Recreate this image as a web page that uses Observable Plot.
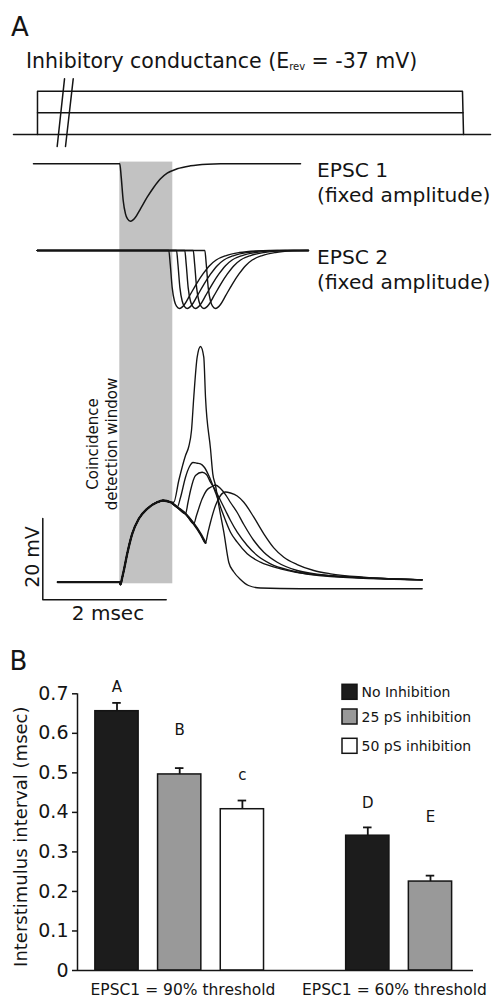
<!DOCTYPE html>
<html><head><meta charset="utf-8">
<script src="https://cdn.jsdelivr.net/npm/d3@7"></script>
<script src="https://cdn.jsdelivr.net/npm/@observablehq/plot@0.6"></script>
<style>
html,body{margin:0;padding:0;background:#fff;}
#fig{position:relative;width:495px;height:999px;overflow:hidden;font-family:"DejaVu Sans",sans-serif;}
</style></head><body><div id="fig"></div>
<script>
// ---------------- DATA: Panel A (time in ms, EPSC onset 1 = 0) ----------------
const windowSpan = [0, 0.859];                 // coincidence detection window (ms)
const inhibitionLevels = [25, 50];             // pS
const conductanceBaseline = [[-1.723,0],[6.008,0]];
const conductance50 = [[-1.334,0],[-1.334,50],[5.554,50],[5.571,0]];
const conductance25 = [[-1.334,25],[5.562,25]];
const axisBreak = [[[-1.015,-13.9],[-0.896,64.3]], [[-0.880,-13.9],[-0.755,64.3]]];

// EPSC waveform (time after onset in ms, normalized current)
const epscShape = [[0,0],[0.023,-0.233],[0.055,-0.639],[0.092,-0.871],[0.125,-0.96],[0.173,-1.0],
  [0.254,-0.930],[0.335,-0.784],[0.444,-0.582],[0.551,-0.408],[0.660,-0.261],[0.768,-0.164],
  [0.930,-0.087],[1.146,-0.035],[1.417,-0.007],[1.633,0]];
const epsc1Onset = 0;
const epsc1Span = [-1.399, 2.929];
const epsc2Onsets = [0.794, 0.919, 1.053, 1.190, 1.378];
const epsc2Span = [-1.339, 3.058];

// Membrane potential traces (ms, mV relative to rest)
const vmCommon = [[-1.005,0],[0,0],[0.011,-0.57],[0.036,0.91],[0.065,2.88],[0.120,6.99],[0.201,11.91],
  [0.308,15.60],[0.444,18.06],[0.606,19.68],[0.700,20.10],[0.822,19.68],[0.930,18.45],[1.065,16.83],
  [1.199,14.37],[1.308,11.91],[1.389,9.69]];
const vmBranchAt = [0.822, 0.930, 1.065, 1.199, 1.389];
const vm1 = [[0.875,19.68],[0.956,25.02],[1.065,31.17],[1.118,33.38],[1.162,37.32],[1.199,45.51],[1.254,55.35],
  [1.308,57.98],[1.361,55.35],[1.389,45.51],[1.470,32.82],[1.507,26.67],[1.551,23.79],[1.605,18.87],
  [1.686,12.30],[1.767,4.85],[1.843,2.63],[1.956,0.66],[2.086,-0.81],[2.280,-1.43],[2.929,-1.60],[4.901,-1.62]];
const vm2 = [[0.984,20.84],[1.065,25.83],[1.130,28.46],[1.186,29.45],[1.254,29.27],[1.308,29.13],[1.373,28.22],
  [1.442,26.25],[1.551,22.07],[1.664,17.15],[1.794,12.30],[1.903,9.84],[2.065,6.99],[2.280,4.92],
  [2.605,3.30],[3.144,1.89],[4.901,0.59]];
const vm3 = [[1.105,19.61],[1.146,22.56],[1.227,26.25],[1.335,27.06],[1.405,26.49],[1.470,24.60],[1.551,22.56],
  [1.632,20.10],[1.713,17.64],[1.794,15.18],[1.903,12.30],[2.065,9.03],[2.227,6.57],[2.442,4.53],
  [2.767,2.88],[3.415,1.40],[4.901,0.59]];
const vm4 = [[1.243,16.41],[1.335,20.52],[1.405,22.56],[1.498,23.54],[1.551,23.91],[1.632,23.05],[1.713,21.57],
  [1.794,19.61],[1.903,17.15],[2.010,14.19],[2.172,10.26],[2.334,7.38],[2.551,4.92],[2.875,2.88],
  [3.415,1.65],[4.901,0.59]];
const vm5 = [[1.429,12.23],[1.470,14.76],[1.551,18.87],[1.632,21.33],[1.713,22.19],[1.794,21.94],[1.903,21.21],
  [2.010,19.68],[2.172,15.99],[2.334,11.91],[2.496,8.46],[2.658,6.15],[2.875,4.35],[3.144,2.88],
  [3.415,2.07],[3.955,1.23],[4.901,0.59]];
const scaleBar = {ms: 2, mV: 20};

// ---------------- DATA: Panel B ----------------
const groups = ["EPSC1 = 90% threshold", "EPSC1 = 60% threshold"];
const conditions = ["No Inhibition", "25 pS inhibition", "50 pS inhibition"];
const barGroup = [0, 0, 0, 1, 1];
const barCondition = [0, 1, 2, 0, 1];
const barValues = [0.656, 0.496, 0.408, 0.341, 0.225];
const barErrors = [0.021, 0.016, 0.022, 0.021, 0.015];
const barLetters = ["A", "B", "c", "D", "E"];
const yTicks = [0, 0.1, 0.2, 0.3, 0.4, 0.5, 0.6, 0.7];
const conditionColors = ["#1c1c1c", "#999999", "#ffffff"];

// ---------------- BUILD ----------------
const fig = document.getElementById("fig");
const W = 495;
const FONT = "DejaVu Sans, sans-serif";
const GRAY = "#c2c2c2";
const INK = "#141414";
const xDomainA = [-1.9335, 6.0891];

function place(svg, top) {
  svg.style.position = "absolute";
  svg.style.left = "0px";
  svg.style.top = top + "px";
  fig.appendChild(svg);
}
function panelA(top, height, yDomain, marks) {
  const svg = Plot.plot({
    width: W, height, marginLeft: 0, marginRight: 0, marginTop: 0, marginBottom: 0,
    x: {domain: xDomainA, axis: null}, y: {domain: yDomain, axis: null},
    style: {background: "none", overflow: "visible"}, marks
  });
  place(svg, top);
}
const lineOpt = {stroke: INK, strokeWidth: 1.5};

// A1: inhibitory conductance
panelA(40, 110, [-18.48, 108.55], [
  Plot.line(conductanceBaseline, {...lineOpt}),
  Plot.line(conductance50, {...lineOpt}),
  Plot.line(conductance25, {...lineOpt}),
  ...axisBreak.map(seg => Plot.line(seg, {...lineOpt}))
]);

// EPSC traces built from the EPSC waveform at each onset
function epscTrace(onset, span) {
  return [[span[0], 0], ...epscShape.map(([t, i]) => [onset + t, i]), [span[1], 0]];
}
const yA2 = [-1.249, 0.232];
panelA(150, 85, yA2, [
  Plot.rect([windowSpan], {x1: d => d[0], x2: d => d[1], y1: () => yA2[0], y2: () => 0.03, fill: GRAY}),
  Plot.line(epscTrace(epsc1Onset, epsc1Span), {...lineOpt, curve: "monotone-x"})
]);
const yA3 = [-1.207, 0.259];
panelA(235, 85, yA3, [
  Plot.rect([windowSpan], {x1: d => d[0], x2: d => d[1], y1: () => yA3[0], y2: () => yA3[1], fill: GRAY}),
  ...epsc2Onsets.map(o => Plot.line(epscTrace(o, epsc2Span), {...lineOpt, strokeWidth: 1.4, curve: "monotone-x"}))
]);

// A4: membrane potential
const yA4 = [-11.88, 64.38];
const vmBranches = [vm1, vm2, vm3, vm4, vm5];
const vmTraces = vmBranches.map((b, i) => vmCommon.filter(p => p[0] <= vmBranchAt[i]).concat(b));
const sbT = -1.248, sbV = -4.33;
panelA(320, 310, yA4, [
  Plot.rect([windowSpan], {x1: d => d[0], x2: d => d[1], y1: () => -0.39, y2: () => yA4[1], fill: GRAY}),
  Plot.line(vmCommon, {stroke: INK, strokeWidth: 2.3, curve: "monotone-x"}),
  ...vmTraces.map(tr => Plot.line(tr, {stroke: INK, strokeWidth: 1.35, curve: "monotone-x"})),
  Plot.line([[sbT, sbV + scaleBar.mV], [sbT, sbV], [sbT + scaleBar.ms, sbV]], {...lineOpt})
]);

// Panel B bar chart
const bars = barValues.map((v, i) => ({
  group: barGroup[i], cond: barCondition[i], slot: barGroup[i] * 4 + barCondition[i],
  value: v, err: barErrors[i], letter: barLetters[i]
}));
const letterLevels = [0.717, 0.608, 0.494, 0.424, 0.388];
const xB = [-0.630, 5.686];
const half = 0.345;
const barSvg = Plot.plot({
  width: W, height: 359, marginLeft: 77, marginRight: 22, marginTop: 53.3, marginBottom: 29,
  x: {domain: xB, axis: null}, y: {domain: [0, 0.7], axis: null},
  style: {background: "none", overflow: "visible", fontFamily: FONT, color: INK},
  marks: [
    ...conditions.map((c, ci) => Plot.rect(bars.filter(d => d.cond === ci), {
      x1: d => d.slot - half, x2: d => d.slot + half, y1: () => 0, y2: "value",
      fill: conditionColors[ci], stroke: INK, strokeWidth: 1.5
    })),
    Plot.ruleX(bars, {x: "slot", y1: "value", y2: d => d.value + d.err, stroke: INK, strokeWidth: 1.8}),
    Plot.ruleY(bars, {y: d => d.value + d.err, x1: d => d.slot - 0.068, x2: d => d.slot + 0.068, stroke: INK, strokeWidth: 1.8}),
    Plot.text(bars, {x: "slot", y: (d, i) => letterLevels[i], text: "letter", fontSize: 15, fill: INK, fontFamily: FONT}),
    Plot.ruleY([0], {stroke: INK, strokeWidth: 1.5}),
    Plot.ruleX([0], {x: () => xB[0], y1: () => 0, y2: () => 0.7, stroke: INK, strokeWidth: 1.5}),
    Plot.axisY({ticks: yTicks, tickFormat: d => d === 0 ? "0" : d.toFixed(1), tickSize: 5, tickPadding: 4,
      fontSize: 19, label: null, stroke: INK, strokeWidth: 1.5, fill: INK})
  ]
});
place(barSvg, 640);

// ---------------- TEXT OVERLAY ----------------
const ov = d3.create("svg").attr("width", W).attr("height", 999)
  .style("position", "absolute").style("left", "0px").style("top", "0px")
  .attr("font-family", FONT).attr("fill", INK);
function label(x, y, s, size, anchor = "start", rotate = 0) {
  return ov.append("text").attr("transform", `translate(${x},${y}) rotate(${rotate})`)
    .attr("font-size", size).attr("text-anchor", anchor).text(s);
}
label(11, 36, "A", 26);
const title = ov.append("text").attr("x", 26).attr("y", 68).attr("font-size", 20.5);
title.append("tspan").text("Inhibitory conductance (E");
title.append("tspan").attr("font-size", 10).attr("dy", 2).text("rev");
title.append("tspan").attr("dy", -2).text(" = -37 mV)");
label(317, 177, "EPSC 1", 20.2);
label(317, 202, "(fixed amplitude)", 20.2);
label(317, 264, "EPSC 2", 20.2);
label(317, 289, "(fixed amplitude)", 20.2);
label(98, 444, "Coincidence", 15, "middle", -90);
label(116.5, 444, "detection window", 15, "middle", -90);
label(39, 557, "20 mV", 19, "middle", -90);
label(108, 620, "2 msec", 20, "middle");
label(9.5, 670, "B", 26);
label(27, 836.7, "Interstimulus interval (msec)", 18, "middle", -90);
const legY = [684.3, 709, 738.3];
conditions.forEach((c, i) => {
  ov.append("rect").attr("x", 342).attr("y", legY[i]).attr("width", 15).attr("height", 15)
    .attr("fill", conditionColors[i]).attr("stroke", INK).attr("stroke-width", 1.5);
  label(361.5, legY[i] + 12.5, c, 14);
});
label(183, 995, groups[0], 15.5, "middle");
label(394.5, 995, groups[1], 15.5, "middle");
fig.appendChild(ov.node());
</script></body></html>
